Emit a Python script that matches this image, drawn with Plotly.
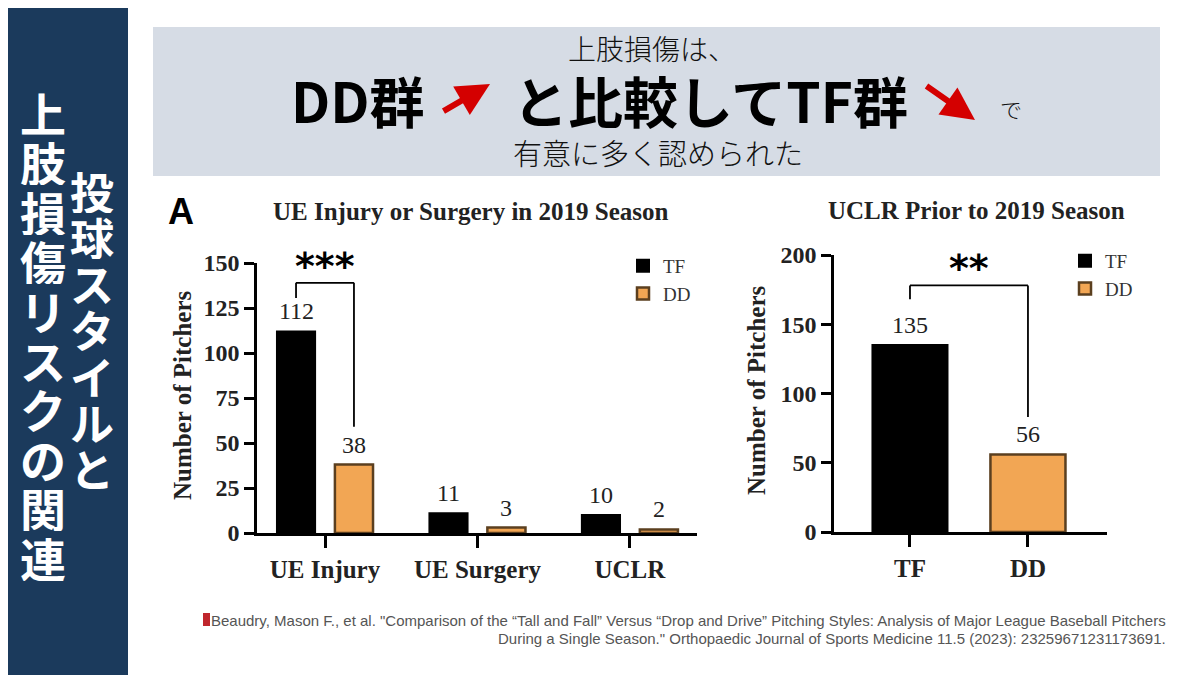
import plotly.graph_objects as go

W, H = 1200, 675
# the page puts the figure 8px in from the top-left corner
OX, OY = 8, 8

# ---- data ----
categories_a = ["UE Injury", "UE Surgery", "UCLR"]
tf_a = [112, 11, 10]
dd_a = [38, 3, 2]
yticks_a = [0, 25, 50, 75, 100, 125, 150]

groups_b = ["TF", "DD"]
uclr_b = [135, 56]
yticks_b = [0, 50, 100, 150, 200]

stars_a = "***"
stars_b = "**"

side_right = "投球スタイルと"
side_left = "上肢損傷リスクの関連"

citation = [
    'Beaudry, Mason F., et al. "Comparison of the \u201cTall and Fall\u201d Versus \u201cDrop and Drive\u201d '
    'Pitching Styles: Analysis of Major League Baseball Pitchers',
    'During a Single Season." Orthopaedic Journal of Sports Medicine 11.5 (2023): 23259671231173691.',
]

# ---- styles ----
NAVY = "#1b3a5c"
BANNER = "#d6dce5"
ORANGE = "#f2a654"
BROWN = "#5b3f1f"
RED = "#d40000"
SERIF = "Liberation Serif"
CJK = "Noto Sans CJK JP"


def px(x):
    return (x - OX) / W


def py(y):
    return 1 - (y - OY) / H


def note(text, x, y, size, family=CJK, color="black", weight="normal", **kw):
    d = dict(text=text, x=px(x), y=py(y), xref="paper", yref="paper", showarrow=False,
             xanchor="center", yanchor="middle",
             font=dict(family=family, size=size, color=color, weight=weight))
    d.update(kw)
    return d


# bar geometry (category units)
bw_a = 0.25
off_a = 0.19
bw_b = 0.636

fig = go.Figure()
fig.add_trace(go.Bar(
    x=categories_a, y=tf_a, name="TF", width=bw_a, offset=-off_a - bw_a / 2,
    marker=dict(color="black", line=dict(color="black", width=2)),
    xaxis="x", yaxis="y", legend="legend",
))
fig.add_trace(go.Bar(
    x=categories_a, y=dd_a, name="DD", width=bw_a, offset=off_a - bw_a / 2,
    marker=dict(color=ORANGE, line=dict(color=BROWN, width=2.5)),
    xaxis="x", yaxis="y", legend="legend",
))
fig.add_trace(go.Bar(
    x=[groups_b[0]], y=[uclr_b[0]], name="TF", width=bw_b, offset=-bw_b / 2,
    marker=dict(color="black", line=dict(color="black", width=2)),
    xaxis="x2", yaxis="y2", legend="legend2",
))
fig.add_trace(go.Bar(
    x=[groups_b[1]], y=[uclr_b[1]], name="DD", width=bw_b, offset=-bw_b / 2,
    marker=dict(color=ORANGE, line=dict(color=BROWN, width=2.5)),
    xaxis="x2", yaxis="y2", legend="legend2",
))

annotations = []
shapes = []

# background pieces
shapes.append(dict(type="rect", xref="paper", yref="paper", x0=px(0), x1=px(128), y0=py(690), y1=py(0),
                   fillcolor=NAVY, line=dict(width=0), layer="below"))
shapes.append(dict(type="rect", xref="paper", yref="paper", x0=px(153), x1=px(1160),
                   y0=py(176), y1=py(27), fillcolor=BANNER, line=dict(width=0), layer="below"))
shapes.append(dict(type="rect", xref="paper", yref="paper", x0=px(203), x1=px(210),
                   y0=py(626), y1=py(613), fillcolor="#c0262d", line=dict(width=0)))

# sidebar vertical text, one character per box
for i, ch in enumerate(side_left):
    annotations.append(note(ch, 43, 112 + i * 49.4, 46, color="white", weight="bold", height=48))
for i, ch in enumerate(side_right):
    annotations.append(note(ch, 92, 190 + i * 46.3, 44, color="white", weight="bold", height=45))

# banner text
annotations += [
    note("上肢損傷は、", 652, 48, 28, color="#111", weight=300),
    note("DD群", 358, 99, 55, weight="bold"),
    note("と比較してTF群", 710, 99, 55, weight="bold"),
    note("で", 1011, 108, 22, color="#111", weight=300),
    note("有意に多く認められた", 658, 152, 29, color="#111", weight=300),
    dict(text="", x=px(490), y=py(84), xref="paper", yref="paper", showarrow=True,
         ax=-48, ay=28, arrowhead=2, arrowsize=1.1, arrowwidth=6, arrowcolor=RED),
    dict(text="", x=px(975), y=py(120), xref="paper", yref="paper", showarrow=True,
         ax=-50, ay=-35, arrowhead=2, arrowsize=1.1, arrowwidth=6, arrowcolor=RED),
]

# chart titles
annotations += [
    note("A", 181, 211, 36, family="Liberation Sans", weight="bold"),
    note("UE Injury or Surgery in 2019 Season", 471, 212, 25, family=SERIF, color="#222", weight="bold"),
    note("UCLR Prior to 2019 Season", 976, 210, 25, family=SERIF, color="#222", weight="bold"),
    note("Number of Pitchers", 182, 396, 25, family=SERIF, color="#222", weight="bold", textangle=-90),
    note("Number of Pitchers", 757, 391, 25, family=SERIF, color="#222", weight="bold", textangle=-90),
]

# value labels
label_font = dict(family=SERIF, size=24, color="#222")
for i, v in enumerate(tf_a):
    annotations.append(dict(text=str(v), x=i - off_a, y=v, xref="x", yref="y", yanchor="bottom",
                            xanchor="center", yshift=5, showarrow=False, font=label_font))
for i, v in enumerate(dd_a):
    annotations.append(dict(text=str(v), x=i + off_a, y=v, xref="x", yref="y", yanchor="bottom",
                            xanchor="center", yshift=5, showarrow=False, font=label_font))
for i, v in enumerate(uclr_b):
    annotations.append(dict(text=str(v), x=i, y=v, xref="x2", yref="y2", yanchor="bottom",
                            xanchor="center", yshift=5, showarrow=False, font=label_font))


# significance brackets
def bracket(xa, ya, x0, x1, y_left, y_right, y_top):
    line = dict(color="black", width=1.8)
    return [
        dict(type="line", xref=xa, yref=ya, x0=x0, x1=x0, y0=y_left, y1=y_top, line=line),
        dict(type="line", xref=xa, yref=ya, x0=x0, x1=x1, y0=y_top, y1=y_top, line=line),
        dict(type="line", xref=xa, yref=ya, x0=x1, x1=x1, y0=y_right, y1=y_top, line=line),
    ]


shapes += bracket("x", "y", -off_a, off_a, tf_a[0] + 18.5, dd_a[0] + 21, tf_a[0] + 27)
shapes += bracket("x2", "y2", 0, 1, uclr_b[0] + 33, uclr_b[1] + 27, uclr_b[0] + 43)
star_font = dict(family="DejaVu Sans", size=38, color="black", weight="bold")
annotations += [
    dict(text=stars_a, x=0, y=tf_a[0] + 27, xref="x", yref="y", yanchor="bottom", xanchor="center",
         yshift=-7, showarrow=False, font=star_font),
    dict(text=stars_b, x=0.5, y=uclr_b[0] + 43, xref="x2", yref="y2", yanchor="bottom", xanchor="center",
         yshift=-7, showarrow=False, font=star_font),
]

# citation
for i, line in enumerate(citation):
    annotations.append(note(line, 1168, 620 + i * 18, 15, family="Liberation Sans", color="#555",
                            xanchor="right"))

axis_common = dict(
    showline=True, linecolor="black", linewidth=2.5, ticks="outside", tickcolor="black",
    tickwidth=2.5, showgrid=False, zeroline=False, fixedrange=True, automargin=False,
)
tick_font = dict(family=SERIF, size=24, color="#222", weight="bold")
xtick_font = dict(family=SERIF, size=25, color="#222", weight="bold")

fig.update_layout(
    width=W, height=H,
    margin=dict(l=0, r=0, t=0, b=0, autoexpand=False),
    paper_bgcolor="white", plot_bgcolor="white",
    font=dict(family=SERIF),
    barmode="group",
    xaxis=dict(domain=[px(257), px(697)], range=[-0.446, 2.44], anchor="y", ticklen=12,
               tickfont=xtick_font, **axis_common),
    yaxis=dict(domain=[py(533), py(263)], range=[0, 150], tickvals=yticks_a, anchor="x", ticklen=10,
               tickfont=tick_font, **axis_common),
    xaxis2=dict(domain=[px(834), px(1107)], range=[-0.644, 1.67], anchor="y2", ticklen=12,
                tickfont=xtick_font, **axis_common),
    yaxis2=dict(domain=[py(532), py(255)], range=[0, 200], tickvals=yticks_b, anchor="x2", ticklen=10,
                tickfont=tick_font, **axis_common),
    legend=dict(x=px(623), y=py(247), xanchor="left", yanchor="top", bgcolor="rgba(0,0,0,0)",
                font=dict(family=SERIF, size=19, color="#333")),
    legend2=dict(x=px(1065), y=py(242), xanchor="left", yanchor="top", bgcolor="rgba(0,0,0,0)",
                 font=dict(family=SERIF, size=19, color="#333")),
    annotations=annotations,
    shapes=shapes,
)

fig.write_html("out.html")
